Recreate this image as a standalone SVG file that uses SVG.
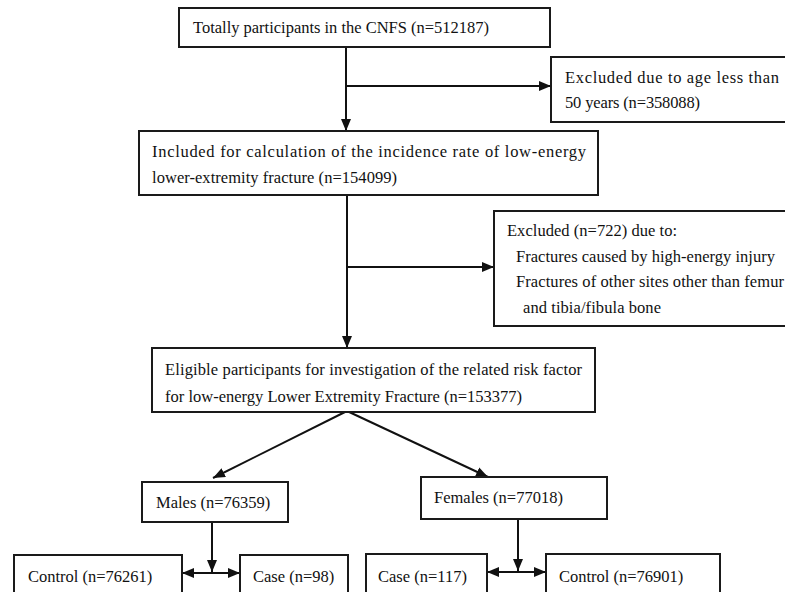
<svg xmlns="http://www.w3.org/2000/svg" width="785" height="592" viewBox="0 0 785 592">
<style>
  .box { fill: #ffffff; stroke: #1a1a1a; stroke-width: 2; }
  .t { font-family: "Liberation Serif", "DejaVu Serif", "Times New Roman", serif; font-size: 16.5px; fill: #111111; }
  .c { fill: none; stroke: #111111; stroke-width: 2; }
</style>
<defs>
  <marker id="ah" markerUnits="userSpaceOnUse" markerWidth="12" markerHeight="10" viewBox="0 0 12 10" refX="12" refY="5" orient="auto-start-reverse">
    <path d="M0,0 L12,5 L0,10 z" fill="#111111"/>
  </marker>
</defs>
<rect width="785" height="592" fill="#ffffff"/>

<g id="connectors">
  <line class="c" x1="346" y1="47" x2="346" y2="131" marker-end="url(#ah)"/>
  <line class="c" x1="346" y1="86" x2="551" y2="86" marker-end="url(#ah)"/>
  <line class="c" x1="347" y1="195" x2="347" y2="348" marker-end="url(#ah)"/>
  <line class="c" x1="347" y1="267" x2="494" y2="267" marker-end="url(#ah)"/>
  <line class="c" x1="347" y1="411" x2="213" y2="478" marker-end="url(#ah)"/>
  <line class="c" x1="347" y1="411" x2="488" y2="477" marker-end="url(#ah)"/>
  <line class="c" x1="212" y1="522" x2="212" y2="572" marker-end="url(#ah)"/>
  <line class="c" x1="182" y1="573" x2="240" y2="573" marker-start="url(#ah)" marker-end="url(#ah)"/>
  <line class="c" x1="518" y1="519" x2="518" y2="571" marker-end="url(#ah)"/>
  <line class="c" x1="487" y1="572" x2="546" y2="572" marker-start="url(#ah)" marker-end="url(#ah)"/>
</g>

<g id="total">
  <rect class="box" x="179" y="8" width="371" height="39"/>
  <text class="t" x="193" y="33" textLength="296" lengthAdjust="spacing">Totally participants in the CNFS (n=512187)</text>
</g>

<g id="excluded-age">
  <rect class="box" x="551" y="57" width="250" height="65"/>
  <text class="t" x="565" y="83" textLength="214" lengthAdjust="spacing">Excluded due to age less than</text>
  <text class="t" x="565" y="108" textLength="135" lengthAdjust="spacing">50 years (n=358088)</text>
</g>

<g id="included">
  <rect class="box" x="139" y="131" width="459" height="64"/>
  <text class="t" x="152" y="157" textLength="434" lengthAdjust="spacing">Included for calculation of the incidence rate of low-energy</text>
  <text class="t" x="152" y="183" textLength="245" lengthAdjust="spacing">lower-extremity fracture (n=154099)</text>
</g>

<g id="excluded-722">
  <rect class="box" x="494" y="211" width="310" height="115"/>
  <text class="t" x="507" y="236" textLength="170" lengthAdjust="spacing">Excluded (n=722) due to:</text>
  <text class="t" x="516" y="262" textLength="259" lengthAdjust="spacing">Fractures caused by high-energy injury</text>
  <text class="t" x="516" y="287" textLength="268" lengthAdjust="spacing">Fractures of other sites other than femur</text>
  <text class="t" x="523" y="313" textLength="138" lengthAdjust="spacing">and tibia/fibula bone</text>
</g>

<g id="eligible">
  <rect class="box" x="152" y="348" width="443" height="64"/>
  <text class="t" x="165" y="375" textLength="417" lengthAdjust="spacing">Eligible participants for investigation of the related risk factor</text>
  <text class="t" x="165" y="402" textLength="357" lengthAdjust="spacing">for low-energy Lower Extremity Fracture (n=153377)</text>
</g>

<g id="males">
  <rect class="box" x="142" y="482" width="146" height="40"/>
  <text class="t" x="156" y="508">Males (n=76359)</text>
</g>

<g id="females">
  <rect class="box" x="421" y="477" width="186" height="42"/>
  <text class="t" x="434" y="503">Females (n=77018)</text>
</g>

<g id="control-male">
  <rect class="box" x="14" y="555" width="168" height="50"/>
  <text class="t" x="28" y="582">Control (n=76261)</text>
</g>

<g id="case-male">
  <rect class="box" x="240" y="555" width="108" height="50"/>
  <text class="t" x="253" y="582">Case (n=98)</text>
</g>

<g id="case-female">
  <rect class="box" x="366" y="554" width="121" height="50"/>
  <text class="t" x="378" y="582">Case (n=117)</text>
</g>

<g id="control-female">
  <rect class="box" x="546" y="554" width="174" height="50"/>
  <text class="t" x="559" y="582">Control (n=76901)</text>
</g>
</svg>
